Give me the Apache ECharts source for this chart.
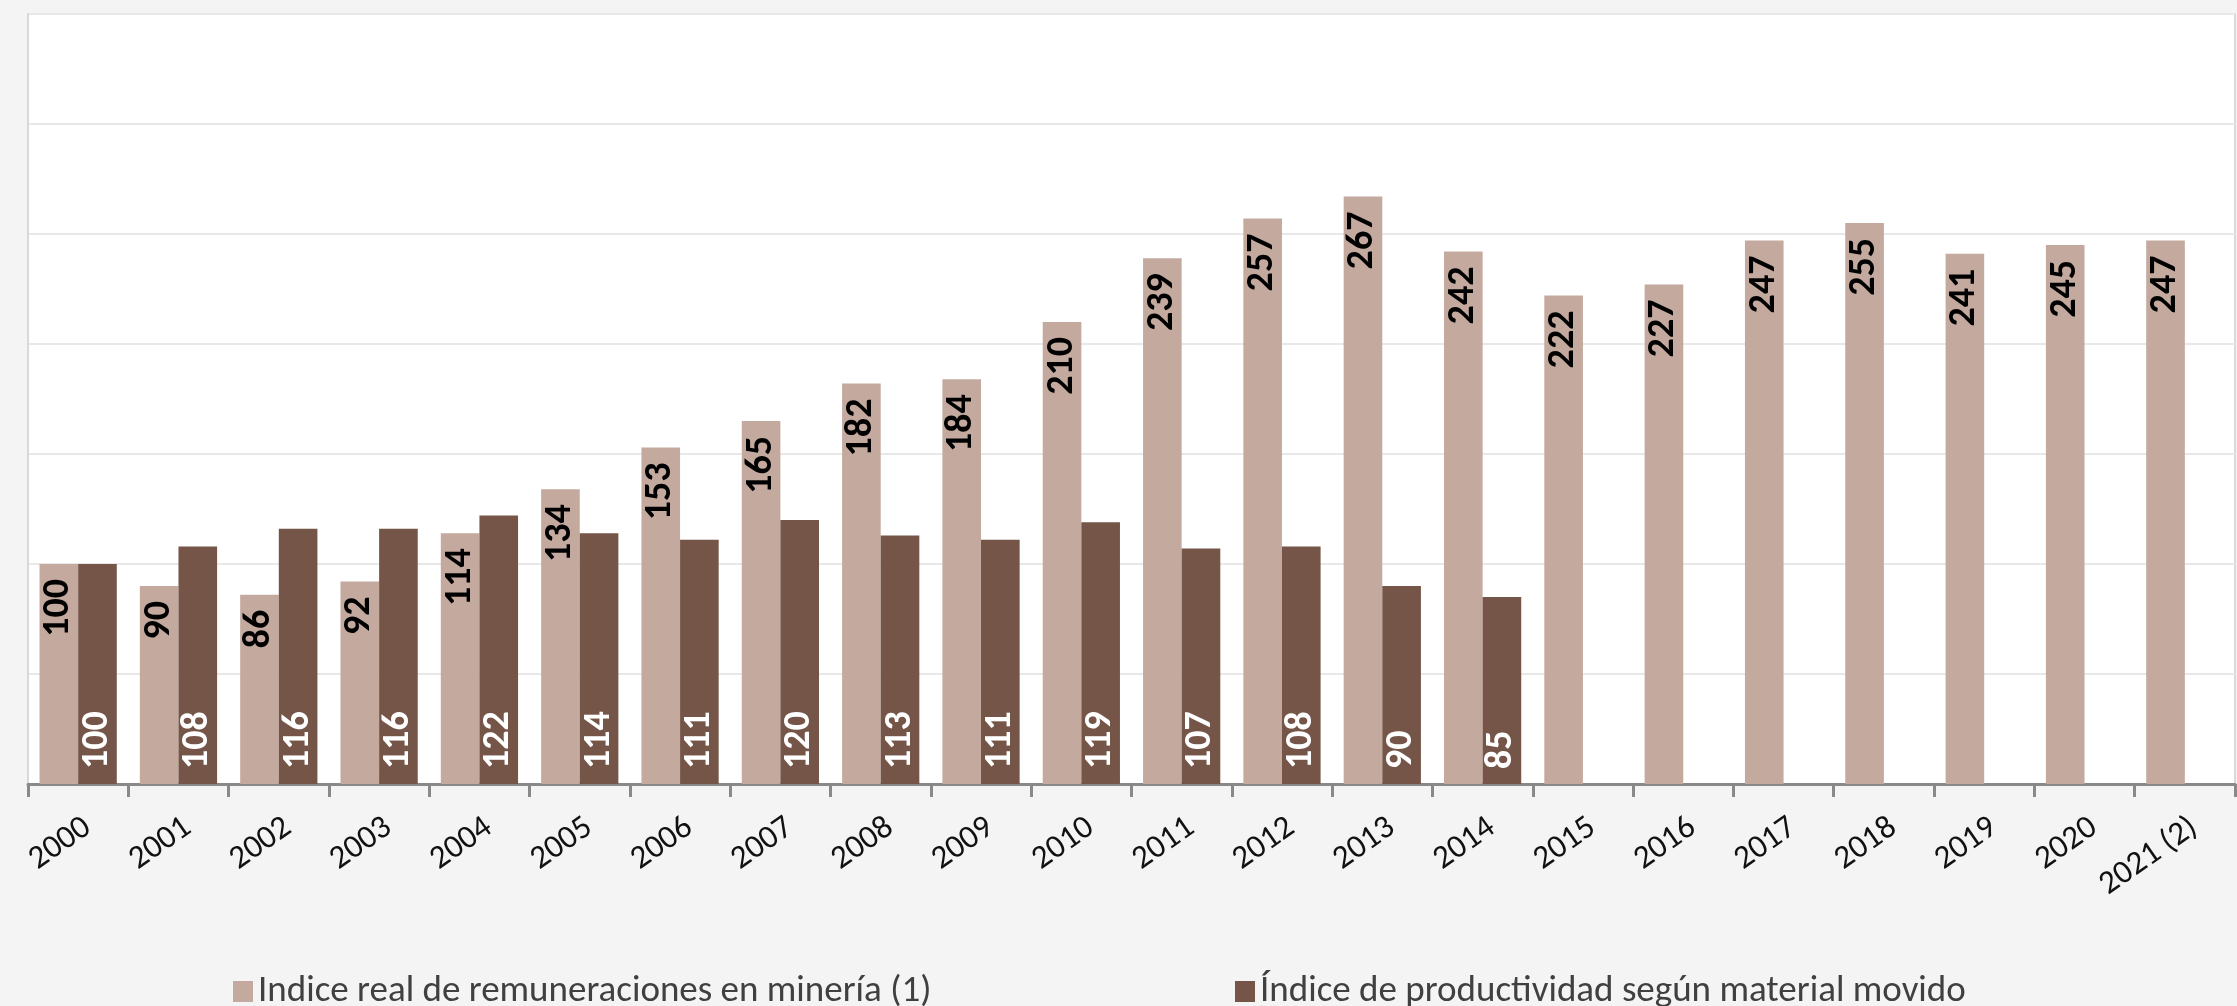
<!DOCTYPE html>
<html>
<head>
<meta charset="utf-8">
<script src="https://cdn.jsdelivr.net/npm/echarts@6/dist/echarts.min.js"></script>
<style>
  html, body { margin: 0; padding: 0; background: #f4f4f4; }
  #chart { width: 2237px; height: 1006px; }
</style>
</head>
<body>
<div id="chart"></div>
<script>
const categories = ['2000','2001','2002','2003','2004','2005','2006','2007','2008','2009','2010','2011','2012','2013','2014','2015','2016','2017','2018','2019','2020','2021 (2)'];
const remuneraciones = [100, 90, 86, 92, 114, 134, 153, 165, 182, 184, 210, 239, 257, 267, 242, 222, 227, 247, 255, 241, 245, 247];
const productividad = [100, 108, 116, 116, 122, 114, 111, 120, 113, 111, 119, 107, 108, 90, 85, null, null, null, null, null, null, null];
const seriesNames = ['Indice real de remuneraciones en minería (1)', 'Índice de productividad según material movido'];
const yTicks = { min: 0, max: 350, interval: 50 };

const FONT = 'Carlito, Lato, sans-serif';
const chart = echarts.init(document.getElementById('chart'), null, { renderer: 'canvas' });
chart.setOption({
  backgroundColor: '#f4f4f4',
  animation: false,
  grid: {
    left: 28, top: 14, right: 2, bottom: 222,
    show: true, backgroundColor: '#ffffff', borderColor: '#d9d9d9', borderWidth: 2,
    containLabel: false
  },
  legend: [
    {
      data: [seriesNames[0]], left: 228, top: 968, itemWidth: 20, itemHeight: 21,
      icon: 'rect', textStyle: { fontFamily: FONT, fontSize: 37, color: '#404040' }
    },
    {
      data: [seriesNames[1]], left: 1230, top: 968, itemWidth: 20, itemHeight: 21,
      icon: 'rect', textStyle: { fontFamily: FONT, fontSize: 37, color: '#404040' }
    }
  ],
  xAxis: {
    type: 'category',
    data: categories,
    axisLine: { lineStyle: { color: '#898989', width: 3 } },
    axisTick: { show: true, length: 13, lineStyle: { color: '#898989', width: 3 } },
    axisLabel: {
      interval: 0, rotate: 35, margin: 27, align: 'right', verticalAlign: 'top',
      fontFamily: FONT, fontSize: 33, color: '#111111'
    },
    splitLine: { show: false }
  },
  yAxis: {
    type: 'value',
    min: yTicks.min, max: yTicks.max, interval: yTicks.interval,
    axisLabel: { show: false },
    axisTick: { show: false },
    axisLine: { show: true, lineStyle: { color: '#d9d9d9', width: 2 } },
    splitLine: { lineStyle: { color: '#e8e8e8', width: 2 } }
  },
  series: [
    {
      name: seriesNames[0], type: 'bar', data: remuneraciones,
      barGap: '0%', barCategoryGap: '23%',
      itemStyle: { color: '#c4a99e' },
      label: {
        show: true, position: 'insideTop', distance: 15, rotate: 90,
        align: 'right', verticalAlign: 'middle',
        fontFamily: FONT, fontSize: 38, fontWeight: 'bold', color: '#000000'
      }
    },
    {
      name: seriesNames[1], type: 'bar', data: productividad,
      barGap: '0%', barCategoryGap: '23%',
      itemStyle: { color: '#755548' },
      label: {
        show: true, position: 'insideBottom', distance: 15, rotate: 90,
        align: 'left', verticalAlign: 'middle',
        fontFamily: FONT, fontSize: 38, fontWeight: 'bold', color: '#ffffff'
      }
    }
  ]
});
</script>
</body>
</html>
